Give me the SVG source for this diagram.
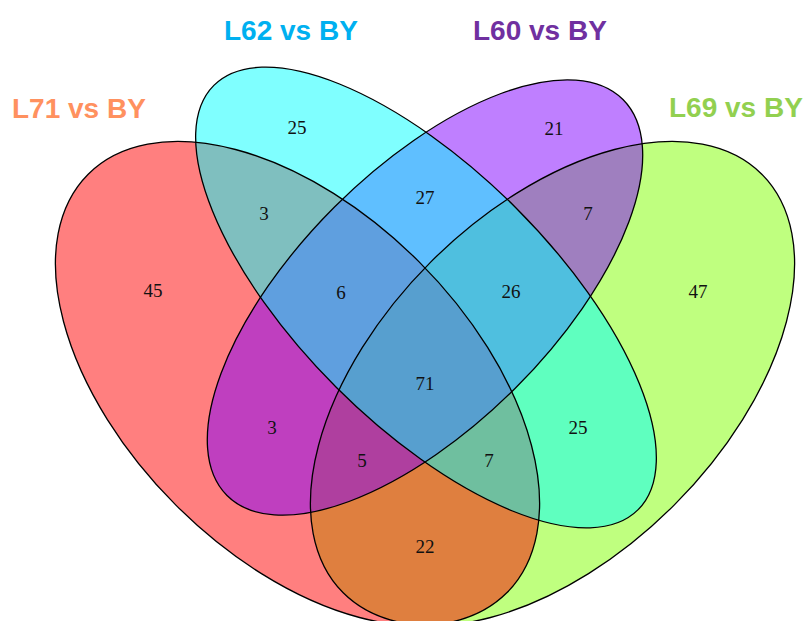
<svg xmlns="http://www.w3.org/2000/svg" width="807" height="621" viewBox="0 0 807 621">
<style>
.fill{stroke:none;fill-opacity:0.5}
.edge{fill:none;stroke:#000;stroke-width:1.3}
.num{font-family:"Liberation Serif","Times New Roman",serif;font-size:19px;fill:#111;text-anchor:middle}
.title{font-family:"Liberation Sans",Arial,sans-serif;font-size:28px;font-weight:bold}
</style>
<rect width="807" height="621" fill="#fff"/>
<g id="fills">
<ellipse class="fill" fill="#7FFF00" cx="552.5" cy="383.5" rx="296" ry="172" transform="rotate(-45 552.5 383.5)"/>
<ellipse class="fill" fill="#FF0000" cx="297.5" cy="383.5" rx="296" ry="172" transform="rotate(45 297.5 383.5)"/>
<ellipse class="fill" fill="#7F00FF" cx="425" cy="297.5" rx="280" ry="128" transform="rotate(-45 425 297.5)"/>
<ellipse class="fill" fill="#00FFFF" cx="426" cy="297.5" rx="300" ry="127" transform="rotate(45 426 297.5)"/>
</g>
<g id="L71"><ellipse class="edge" cx="297.5" cy="383.5" rx="296" ry="172" transform="rotate(45 297.5 383.5)"/><text class="title" x="12" y="118" fill="#FF915F">L71 vs BY</text></g>
<g id="L62"><ellipse class="edge" cx="426" cy="297.5" rx="300" ry="127" transform="rotate(45 426 297.5)"/><text class="title" x="224" y="40" fill="#00B0F0">L62 vs BY</text></g>
<g id="L60"><ellipse class="edge" cx="425" cy="297.5" rx="280" ry="128" transform="rotate(-45 425 297.5)"/><text class="title" x="473" y="39.5" fill="#7030A0">L60 vs BY</text></g>
<g id="L69"><ellipse class="edge" cx="552.5" cy="383.5" rx="296" ry="172" transform="rotate(-45 552.5 383.5)"/><text class="title" x="669" y="117" fill="#92D050">L69 vs BY</text></g>
<g id="counts">
<text class="num" x="297" y="134">25</text>
<text class="num" x="554" y="135">21</text>
<text class="num" x="264" y="220">3</text>
<text class="num" x="425" y="204">27</text>
<text class="num" x="588" y="220">7</text>
<text class="num" x="153" y="297">45</text>
<text class="num" x="341" y="299">6</text>
<text class="num" x="511" y="298">26</text>
<text class="num" x="698" y="298">47</text>
<text class="num" x="425" y="390">71</text>
<text class="num" x="272" y="434">3</text>
<text class="num" x="578" y="434">25</text>
<text class="num" x="362" y="467">5</text>
<text class="num" x="489" y="467">7</text>
<text class="num" x="425" y="553">22</text>
</g>
</svg>
